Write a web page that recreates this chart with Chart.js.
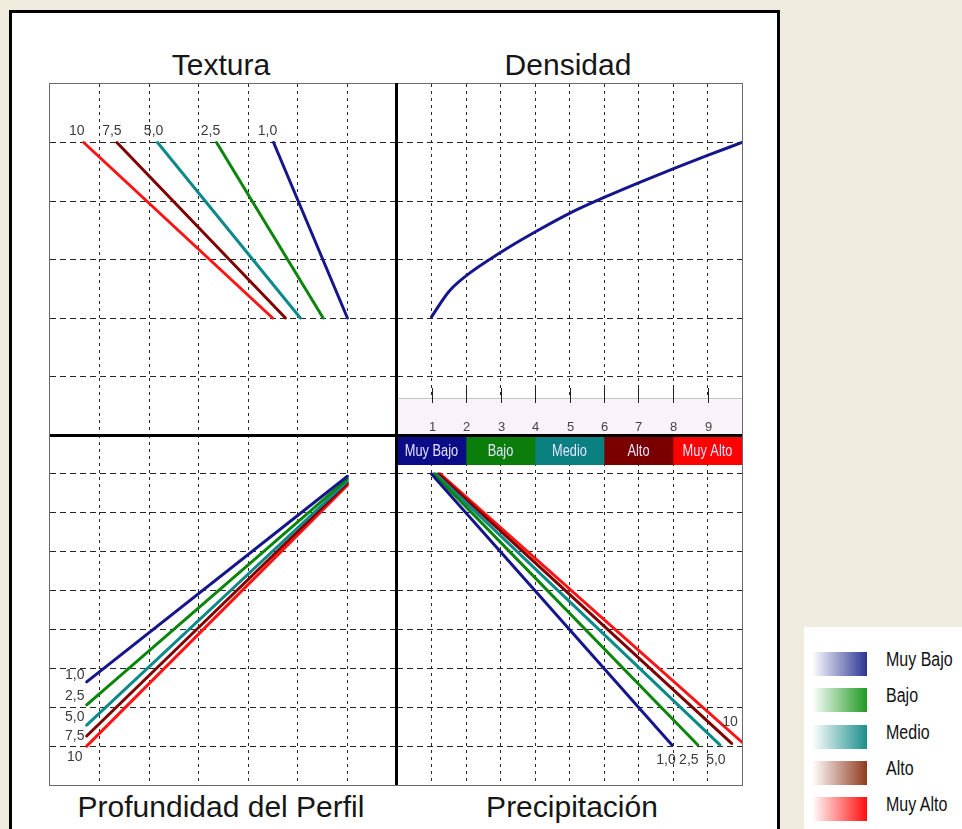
<!DOCTYPE html>
<html>
<head>
<meta charset="utf-8">
<script src="https://cdn.jsdelivr.net/npm/chart.js@4.4.1/dist/chart.umd.min.js"></script>
<style>
  body { margin: 0; background: #efebdd; width: 962px; height: 829px; overflow: hidden; position: relative;
         font-family: "Liberation Sans", Arial, sans-serif; }
  #frame { position: absolute; left: 9px; top: 10px; width: 765px; height: 830px; border: 3px solid #000; background: #fff; }
  canvas { position: absolute; }
  .title { position: absolute; font-size: 30px; line-height: 1; color: #161616; transform: translateX(-50%); white-space: nowrap; }
  .rule { position: absolute; background: #000; }
  #outline { position: absolute; left: 49px; top: 83px; width: 692px; height: 701px; border: 1px solid #6a6a6a; }
  #legend { position: absolute; left: 804px; top: 627px; width: 158px; height: 210px; background: #fff; }
  .swatch { position: absolute; left: 8px; width: 55px; height: 24px; }
  .lname { position: absolute; left: 82px; font-size: 20px; line-height: 24px; color: #111; white-space: nowrap;
           transform: scaleX(0.8); transform-origin: left center; }
</style>
</head>
<body>
<div id="frame"></div>

<div class="title" style="left:221px; top:50px">Textura</div>
<div class="title" style="left:568px; top:50px">Densidad</div>
<div class="title" style="left:221px; top:792px">Profundidad del Perfil</div>
<div class="title" style="left:572px; top:792px">Precipitación</div>

<canvas id="cTextura" width="351" height="355" style="left:48px; top:82px"></canvas>
<canvas id="cDensidad" width="349" height="355" style="left:395px; top:82px"></canvas>
<canvas id="cPerfil" width="351" height="354" style="left:48px; top:433px"></canvas>
<canvas id="cPrecip" width="349" height="354" style="left:395px; top:433px"></canvas>
<canvas id="cStrip" width="345" height="28" style="left:397px; top:437px"></canvas>

<div id="outline"></div>
<div class="rule" style="left:395px; top:83px; width:3px; height:702px"></div>
<div class="rule" style="left:50px; top:434px; width:692px; height:3px"></div>

<div id="legend"></div>

<script>
// ---- data ----
const levels = ['1,0', '2,5', '5,0', '7,5', '10'];
const levelColors = ['#15158c', '#0b850b', '#0b8a8a', '#800000', '#ff1414'];

// Textura: x at the top (y=5) and at the bottom (y=2) of each line
const texturaX = [[4.51, 6.0], [3.36, 5.51], [2.17, 5.05], [1.35, 4.75], [0.68, 4.49]];
const texturaY = [5, 2];

// Densidad curve
const densidadX = [1, 1.5, 2, 3, 4, 5, 6, 7, 8, 9, 10];
const densidadY = [2.02, 2.45, 2.72, 3.12, 3.47, 3.79, 4.06, 4.31, 4.55, 4.78, 5.0];
const densidadTicks = [1, 2, 3, 4, 5, 6, 7, 8, 9];

// Profundidad del Perfil
const perfilX = [0.74, 6.0];
const perfilY = [[2.65, 7.94], [2.06, 7.87], [1.54, 7.81], [1.26, 7.76], [1.0, 7.71]];

// Precipitacion
const precipX = [[1.0, 7.97], [1.07, 8.72], [1.12, 9.36], [1.2, 9.7], [1.25, 10.0]];
const precipY = [[8.0, 1.03], [8.0, 1.03], [8.0, 1.03], [8.0, 1.07], [8.0, 1.1]];

// class strip + legend
const classes = ['Muy Bajo', 'Bajo', 'Medio', 'Alto', 'Muy Alto'];
const classRanges = [[0, 2], [2, 4], [4, 6], [6, 8], [8, 10]];
const stripColors = ['#0c0c88', '#0a7d0a', '#0a8080', '#7a0000', '#ff0000'];
const legendColors = ['#2c3592', '#1e9a22', '#1a8f8c', '#8f3b1f', '#ff0d0d'];

// ---- helpers ----
function linScale(max, dash) {
  return {
    type: 'linear', min: 0, max: max,
    ticks: { display: false, stepSize: 1 },
    border: { display: false, dash: dash },
    grid: {
      drawTicks: false,
      lineWidth: 1,
      color: c => (c.tick && c.tick.value > 0 && c.tick.value < max) ? '#262626' : 'rgba(0,0,0,0)'
    }
  };
}

function xScale(max) {
  const s = linScale(max, [3, 4]);
  s.afterFit = a => { a.height = 0; };
  return s;
}
function yScale(max) {
  const s = linScale(max, [6, 4]);
  s.afterFit = a => { a.width = 0; };
  return s;
}

function baseOptions(xMax, yMax) {
  return {
    responsive: false,
    animation: false,
    layout: { padding: 2 },
    plugins: { legend: { display: false }, tooltip: { enabled: false } },
    elements: { point: { radius: 0 }, line: { borderWidth: 3, tension: 0, borderCapStyle: 'round' } },
    scales: { x: xScale(xMax), y: yScale(yMax) }
  };
}

// small text next to the first or last point of a line
const tagPlugin = {
  id: 'tags',
  afterDatasetsDraw(chart) {
    const ctx = chart.ctx;
    ctx.save();
    ctx.font = '14px "Liberation Sans", Arial, sans-serif';
    ctx.fillStyle = '#3c3c3c';
    ctx.textAlign = 'center';
    ctx.textBaseline = 'middle';
    chart.data.datasets.forEach((ds, i) => {
      if (!ds.tag) return;
      const pts = chart.getDatasetMeta(i).data;
      const p = ds.tagAt === 'last' ? pts[pts.length - 1] : pts[0];
      ctx.fillText(ds.tag, p.x + ds.tagDx, p.y + ds.tagDy);
    });
    ctx.restore();
  }
};

// light band at the foot of Densidad, with solid tick marks and the 1..9 numbers
const bandPlugin = {
  id: 'band',
  beforeDatasetsDraw(chart, args, opts) {
    const { ctx, chartArea: a } = chart;
    const xs = chart.scales.x;
    const top = a.bottom - opts.height;
    ctx.save();
    ctx.fillStyle = opts.color;
    ctx.fillRect(a.left, top, a.right - a.left, opts.height);
    ctx.strokeStyle = '#c4c4c4';
    ctx.lineWidth = 1;
    ctx.beginPath();
    ctx.moveTo(a.left, top + 0.5);
    ctx.lineTo(a.right, top + 0.5);
    ctx.stroke();
    ctx.strokeStyle = '#222';
    ctx.fillStyle = '#444';
    ctx.font = '13px "Liberation Sans", Arial, sans-serif';
    ctx.textAlign = 'center';
    ctx.textBaseline = 'middle';
    densidadTicks.forEach(v => {
      const x = Math.round(xs.getPixelForValue(v)) + 0.5;
      ctx.beginPath();
      ctx.moveTo(x, top - 10);
      ctx.lineTo(x, top + 5);
      ctx.stroke();
      ctx.fillText(String(v), x, a.bottom - 8);
    });
    ctx.restore();
  }
};

const stripLabels = {
  id: 'stripLabels',
  afterDatasetsDraw(chart) {
    const ctx = chart.ctx;
    ctx.save();
    ctx.font = '16px "Liberation Sans", Arial, sans-serif';
    ctx.fillStyle = '#e4e4ff';
    ctx.textAlign = 'center';
    ctx.textBaseline = 'middle';
    chart.data.datasets.forEach((ds, i) => {
      const c = chart.getDatasetMeta(i).data[0].getCenterPoint();
      ctx.save();
      ctx.translate(c.x, c.y + 1);
      ctx.scale(0.8, 1);
      ctx.fillText(ds.label, 0, 0);
      ctx.restore();
    });
    ctx.restore();
  }
};

// ---- Textura ----
const texturaTagDx = [-6, -6, -4, -5, -7];
new Chart(document.getElementById('cTextura'), {
  type: 'line',
  data: {
    datasets: levels.map((lv, i) => ({
      label: lv,
      data: texturaY.map((y, k) => ({ x: texturaX[i][k], y: y })),
      borderColor: levelColors[i],
      tag: lv, tagAt: 'first', tagDx: texturaTagDx[i], tagDy: -11
    }))
  },
  options: baseOptions(7, 6),
  plugins: [tagPlugin]
});

// ---- Densidad ----
const densOpts = baseOptions(10, 6);
densOpts.plugins.band = { height: 37, color: '#f9f3f9' };
new Chart(document.getElementById('cDensidad'), {
  type: 'line',
  data: {
    datasets: [{
      label: 'Densidad',
      data: densidadX.map((x, k) => ({ x: x, y: densidadY[k] })),
      borderColor: '#15158c',
      cubicInterpolationMode: 'monotone'
    }]
  },
  options: densOpts,
  plugins: [bandPlugin]
});

// ---- Profundidad del Perfil ----
const perfilTagDy = [-7, -9, -8, 0, 11];
new Chart(document.getElementById('cPerfil'), {
  type: 'line',
  data: {
    datasets: levels.map((lv, i) => ({
      label: lv,
      data: perfilX.map((x, k) => ({ x: x, y: perfilY[i][k] })),
      borderColor: levelColors[i],
      tag: lv, tagAt: 'first', tagDx: -12, tagDy: perfilTagDy[i]
    }))
  },
  options: baseOptions(7, 9),
  plugins: [tagPlugin]
});

// ---- Precipitacion ----
const precipTags = ['1,0', '2,5', '5,0', '', '10'];
const precipTagDx = [-6, -9, -4, 0, -12];
const precipTagDy = [15, 15, 15, 0, -20];
new Chart(document.getElementById('cPrecip'), {
  type: 'line',
  data: {
    datasets: levels.map((lv, i) => ({
      label: lv,
      data: precipX[i].map((x, k) => ({ x: x, y: precipY[i][k] })),
      borderColor: levelColors[i],
      tag: precipTags[i], tagAt: 'last', tagDx: precipTagDx[i], tagDy: precipTagDy[i]
    }))
  },
  options: baseOptions(10, 9),
  plugins: [tagPlugin]
});

// ---- class strip ----
new Chart(document.getElementById('cStrip'), {
  type: 'bar',
  data: {
    labels: [''],
    datasets: classes.map((name, i) => ({
      label: name,
      data: [classRanges[i]],
      backgroundColor: stripColors[i],
      grouped: false,
      barPercentage: 1,
      categoryPercentage: 1,
      borderWidth: 0
    }))
  },
  options: {
    indexAxis: 'y',
    responsive: false,
    animation: false,
    layout: { padding: 0 },
    plugins: { legend: { display: false }, tooltip: { enabled: false } },
    scales: {
      x: { type: 'linear', min: 0, max: 10, display: false },
      y: { display: false }
    }
  },
  plugins: [stripLabels]
});

// ---- legend box ----
const legend = document.getElementById('legend');
classes.forEach((name, i) => {
  const top = 25 + i * 36.3;
  const sw = document.createElement('div');
  sw.className = 'swatch';
  sw.style.top = top + 'px';
  sw.style.background = 'linear-gradient(to right, #ffffff 0%, ' + legendColors[i] + ' 100%)';
  legend.appendChild(sw);
  const t = document.createElement('div');
  t.className = 'lname';
  t.style.top = (top - 5) + 'px';
  t.textContent = name;
  legend.appendChild(t);
});
</script>
</body>
</html>
